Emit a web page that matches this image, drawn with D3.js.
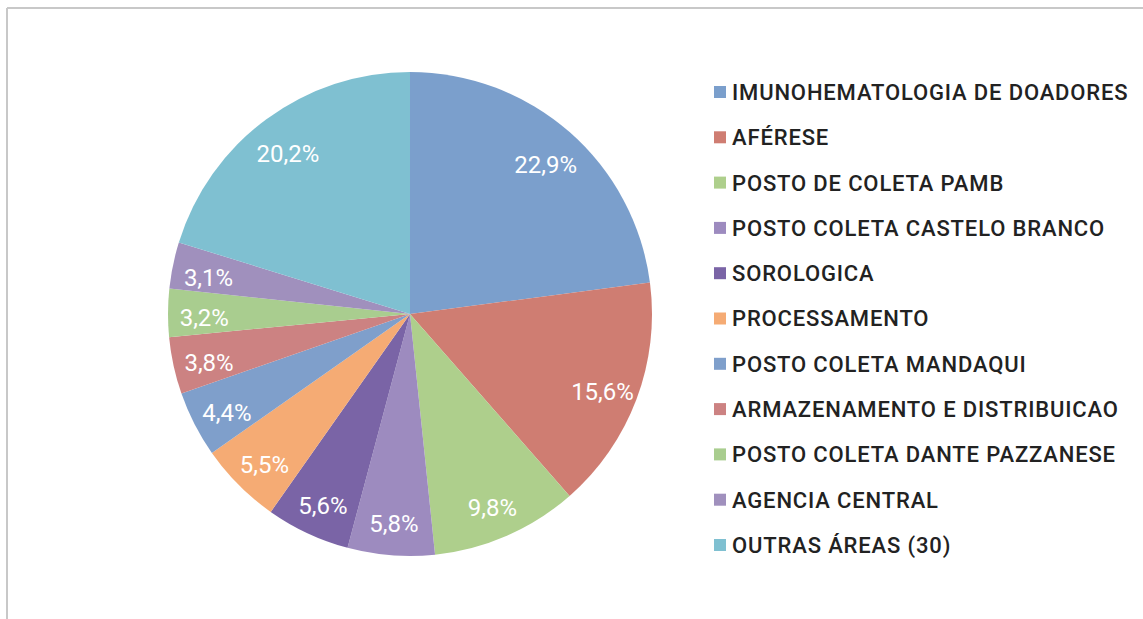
<!DOCTYPE html>
<html>
<head>
<meta charset="utf-8">
<script src="https://cdn.jsdelivr.net/npm/d3@7"></script>
<style>
  body { margin: 0; background: #fff; }
  svg { display: block; }
</style>
</head>
<body>
<svg id="chart" width="1143" height="619"></svg>
<script>
const categories = [
    "IMUNOHEMATOLOGIA DE DOADORES",
    "AFÉRESE",
    "POSTO DE COLETA PAMB",
    "POSTO COLETA CASTELO BRANCO",
    "SOROLOGICA",
    "PROCESSAMENTO",
    "POSTO COLETA MANDAQUI",
    "ARMAZENAMENTO E DISTRIBUICAO",
    "POSTO COLETA DANTE PAZZANESE",
    "AGENCIA CENTRAL",
    "OUTRAS ÁREAS (30)"
];
const values = [22.9, 15.6, 9.8, 5.8, 5.6, 5.5, 4.4, 3.8, 3.2, 3.1, 20.2];
const colors = [
    "#7b9fcc", "#cf7d72", "#aecf8c", "#9d8bbf", "#7a64a6", "#f5ab74",
    "#7f9fcb", "#cc8282", "#a9cd8f", "#a090bd", "#7fc0d1"
];

const svg = d3.select("#chart");

// outer frame (top and left edges visible)
svg.append("line").attr("x1", 7).attr("y1", 8).attr("x2", 1143).attr("y2", 8)
    .attr("stroke", "#c8c8c8").attr("stroke-width", 2);
svg.append("line").attr("x1", 7).attr("y1", 8).attr("x2", 7).attr("y2", 619)
    .attr("stroke", "#c8c8c8").attr("stroke-width", 2);

const cx = 410, cy = 314, radius = 242;

const pie = d3.pie().sort(null).value(d => d.value);
const arc = d3.arc().innerRadius(0).outerRadius(radius);
const labelArc = d3.arc().innerRadius(radius * 0.85).outerRadius(radius * 0.85);

const data = categories.map((c, i) => ({ name: c, value: values[i], color: colors[i] }));
const arcs = pie(data);

const g = svg.append("g").attr("transform", `translate(${cx},${cy})`);

g.selectAll("path")
    .data(arcs)
    .enter().append("path")
    .attr("d", arc)
    .attr("fill", d => d.data.color)
    .attr("stroke", "none");

g.selectAll("text")
    .data(arcs)
    .enter().append("text")
    .attr("transform", d => `translate(${labelArc.centroid(d)})`)
    .attr("text-anchor", "middle")
    .attr("dy", "0.55em")
    .attr("fill", "#fff")
    .attr("font-family", "Roboto, sans-serif")
    .attr("font-size", 24)
    .text(d => d3.format(".1f")(d.data.value).replace(".", ",") + "%");

// legend
const legendY = d3.scalePoint().domain(categories).range([92, 545]);

const legend = svg.append("g").attr("class", "legend");
const item = legend.selectAll("g")
    .data(data)
    .enter().append("g")
    .attr("transform", d => `translate(714,${legendY(d.name)})`);

item.append("rect")
    .attr("x", 0).attr("y", -6)
    .attr("width", 12).attr("height", 12)
    .attr("fill", d => d.color);

item.append("text")
    .attr("x", 18)
    .attr("dy", "0.36em")
    .attr("fill", "#222")
    .attr("font-family", "Roboto, sans-serif")
    .attr("font-size", 22)
    .attr("font-weight", 500)
    .attr("letter-spacing", 0.85)
    .text(d => d.name);
</script>
</body>
</html>
